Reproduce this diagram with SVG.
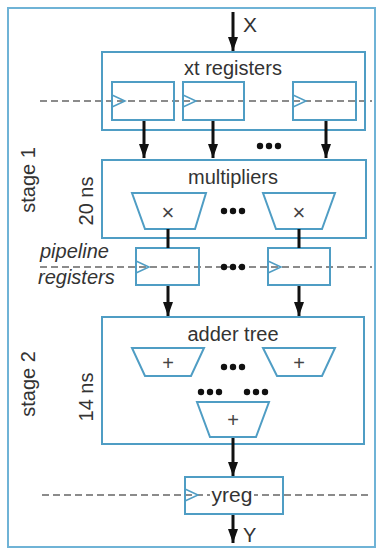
<svg xmlns="http://www.w3.org/2000/svg" width="382" height="550" viewBox="0 0 382 550">
<defs>
<marker id="ah" markerUnits="userSpaceOnUse" markerWidth="14" markerHeight="10" refX="14" refY="5" orient="auto">
<path d="M0,0 L14,5 L0,10 Z" fill="#111"/>
</marker>
<style>
.box{fill:none;stroke:#4f9dc4;stroke-width:2}
.clk{fill:none;stroke:#4f9dc4;stroke-width:1.5}
.dash{stroke:#666;stroke-width:1.5;stroke-dasharray:7 4;fill:none}
.arr{stroke:#111;stroke-width:3;fill:none;marker-end:url(#ah)}
.wire{stroke:#111;stroke-width:3;fill:none}
.t{font-family:"Liberation Sans",Arial,sans-serif;font-size:20px;fill:#333}
.c{text-anchor:middle}
.i{font-style:italic}
.op{font-family:"Liberation Sans",Arial,sans-serif;font-size:22px;fill:#444;text-anchor:middle}
.dot{fill:#111}
</style>
</defs>
<rect x="8" y="8" width="367" height="539" fill="#fff" stroke="#6fb3d6" stroke-width="2"/>

<g id="labels">
<text class="t c" transform="translate(35,180) rotate(-90)">stage 1</text>
<text class="t c" transform="translate(93,201) rotate(-90)">20 ns</text>
<text class="t c" transform="translate(35,384) rotate(-90)">stage 2</text>
<text class="t c" transform="translate(93,397) rotate(-90)">14 ns</text>
<text class="t i" x="40" y="258">pipeline</text>
<text class="t i" x="38" y="284">registers</text>
<text class="t" x="243" y="32" style="font-size:21px">X</text>
<text class="t" x="243" y="542">Y</text>
</g>

<g id="dashed">
<line class="dash" x1="40" y1="101" x2="372" y2="101"/>
<line class="dash" x1="40" y1="267" x2="372" y2="267"/>
<line class="dash" x1="42" y1="495" x2="372" y2="495"/>
</g>

<g id="xt-registers">
<rect class="box" x="102" y="52" width="263" height="78"/>
<text class="t c" x="233" y="75">xt registers</text>
<g id="xt-reg1"><rect class="box" x="112" y="82" width="62" height="38"/><path class="clk" d="M112,95 L125,101 L112,107"/></g>
<g id="xt-reg2"><rect class="box" x="183" y="82" width="61" height="38"/><path class="clk" d="M183,95 L196,101 L183,107"/></g>
<g id="xt-reg3"><rect class="box" x="293" y="82" width="63" height="38"/><path class="clk" d="M293,95 L306,101 L293,107"/></g>
<circle class="dot" cx="260" cy="146" r="3.2"/><circle class="dot" cx="269" cy="146" r="3.2"/><circle class="dot" cx="278" cy="146" r="3.2"/>
</g>

<g id="multipliers">
<rect class="box" x="102" y="160" width="264" height="78"/>
<text class="t c" x="233" y="184">multipliers</text>
<g id="mult1"><polygon class="box" points="132,193 206,193 195,229 145,229"/><text class="op" x="168" y="220">×</text></g>
<g id="mult2"><polygon class="box" points="263,193 335,193 322,229 276,229"/><text class="op" x="299" y="220">×</text></g>
<circle class="dot" cx="224" cy="211" r="3.2"/><circle class="dot" cx="233" cy="211" r="3.2"/><circle class="dot" cx="242" cy="211" r="3.2"/>
</g>

<g id="pipeline-registers">
<g id="preg1"><rect class="box" x="136" y="248" width="63" height="37"/><path class="clk" d="M136,261 L149,267 L136,273"/></g>
<g id="preg2"><rect class="box" x="268" y="248" width="62" height="37"/><path class="clk" d="M268,261 L281,267 L268,273"/></g>
<circle class="dot" cx="224" cy="267" r="3.2"/><circle class="dot" cx="233" cy="267" r="3.2"/><circle class="dot" cx="242" cy="267" r="3.2"/>
</g>

<g id="adder-tree">
<rect class="box" x="102" y="317" width="262" height="127"/>
<text class="t c" x="233" y="341">adder tree</text>
<g id="add1"><polygon class="box" points="132,348 204,348 191,376 145,376"/><text class="op" x="168" y="370" style="font-size:20px">+</text></g>
<g id="add2"><polygon class="box" points="263,348 335,348 322,376 277,376"/><text class="op" x="299" y="370" style="font-size:20px">+</text></g>
<g id="add3"><polygon class="box" points="197,402 269,402 256,437 210,437"/><text class="op" x="233" y="427" style="font-size:20px">+</text></g>
<circle class="dot" cx="224" cy="367" r="3.2"/><circle class="dot" cx="233" cy="367" r="3.2"/><circle class="dot" cx="242" cy="367" r="3.2"/>
<circle class="dot" cx="201" cy="392" r="3.2"/><circle class="dot" cx="210" cy="392" r="3.2"/><circle class="dot" cx="219" cy="392" r="3.2"/>
<circle class="dot" cx="247" cy="392" r="3.2"/><circle class="dot" cx="256" cy="392" r="3.2"/><circle class="dot" cx="265" cy="392" r="3.2"/>
</g>

<g id="yreg">
<rect class="box" x="185" y="477" width="98" height="37"/>
<path class="clk" d="M185,489 L198,495 L185,501"/>
<rect x="210" y="486" width="44" height="20" fill="#fff"/>
<text class="t c" x="232" y="502" style="font-size:21px">yreg</text>
</g>

<g id="connectors">
<line class="arr" x1="233" y1="12" x2="233" y2="51"/>
<line class="arr" x1="144" y1="121" x2="144" y2="158"/>
<line class="arr" x1="213" y1="121" x2="213" y2="158"/>
<line class="arr" x1="326" y1="121" x2="326" y2="158"/>
<line class="wire" x1="168" y1="229" x2="168" y2="248"/>
<line class="wire" x1="299" y1="229" x2="299" y2="248"/>
<line class="arr" x1="168" y1="286" x2="168" y2="316"/>
<line class="arr" x1="299" y1="286" x2="299" y2="316"/>
<line class="arr" x1="233" y1="438" x2="233" y2="476"/>
<line class="arr" x1="233" y1="515" x2="233" y2="543"/>
</g>
</svg>
